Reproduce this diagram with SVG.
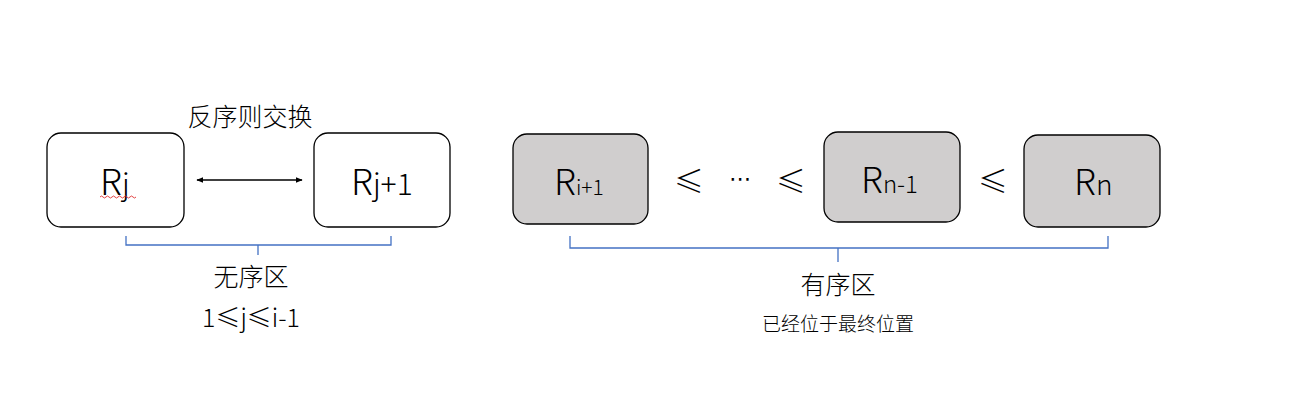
<svg xmlns="http://www.w3.org/2000/svg" width="1300" height="406" viewBox="0 0 1300 406">
<defs>
<style>
.t{font-family:"Noto Sans CJK SC","Noto Sans",sans-serif;fill:#000;}
.r{font-weight:300;}
.dot{font-family:"DejaVu Sans",sans-serif;fill:#000;}
.box{fill:#fff;stroke:#000;stroke-width:1.3;}
.gbox{fill:#D0CECE;stroke:#000;stroke-width:1.3;}
.br{fill:none;stroke:#4472C4;stroke-width:1.3;}
</style>
<marker id="ah" viewBox="0 0 10 10" refX="9" refY="5" markerWidth="7" markerHeight="7" orient="auto-start-reverse" markerUnits="userSpaceOnUse">
<path d="M0,1 L10,5 L0,9 z" fill="#000"/>
</marker>
</defs>
<rect width="1300" height="406" fill="#fff"/>
<text class="t r" x="250" y="126" font-size="25" text-anchor="middle">反序则交换</text>
<g id="node-rj">
<rect class="box" x="47" y="133" width="137" height="94" rx="14"/>
<text class="t r" x="100" y="195" font-size="36">R<tspan font-size="30">j</tspan></text>
<path d="M100,197 q1.5,-2 3,0 t3,0 t3,0 t3,0 t3,0 t3,0 t3,0 t3,0 t3,0 t3,0 t3,0 t3,0" fill="none" stroke="#e03030" stroke-width="0.9"/>
</g>
<g id="node-rj1">
<rect class="box" x="314" y="133" width="136" height="94" rx="14"/>
<text class="t r" x="351" y="195" font-size="36">R<tspan font-size="30">j+1</tspan></text>
</g>
<g id="node-ri1">
<rect class="gbox" x="513" y="134" width="135" height="90" rx="14"/>
<text class="t r" x="554" y="195" font-size="36">R<tspan font-size="21">i+1</tspan></text>
</g>
<g id="node-rn1">
<rect class="gbox" x="824" y="132" width="136" height="90" rx="14"/>
<text class="t r" x="861" y="193" font-size="36">R<tspan font-size="24">n-1</tspan></text>
</g>
<g id="node-rn">
<rect class="gbox" x="1024" y="135" width="136" height="92" rx="14"/>
<text class="t r" x="1074" y="195" font-size="36">R<tspan font-size="28">n</tspan></text>
</g>
<g id="relations">
<text class="t r" x="689" y="192" font-size="30" text-anchor="middle">≤</text>
<text class="dot" x="740" y="186" font-size="22" text-anchor="middle">⋯</text>
<text class="t r" x="791" y="192" font-size="30" text-anchor="middle">≤</text>
<text class="t r" x="993" y="192" font-size="30" text-anchor="middle">≤</text>
</g>
<g id="connectors">
<line x1="197" y1="180" x2="302" y2="180" stroke="#000" stroke-width="1.3" marker-start="url(#ah)" marker-end="url(#ah)"/>
<path class="br" d="M126,236 V245 H391 V236 M258,245 V255"/>
<path class="br" d="M570,236 V248 H1108 V236 M838,248 V262"/>
</g>
<g id="labels">
<text class="t r" x="251" y="286" font-size="25" text-anchor="middle">无序区</text>
<text class="t r" x="251" y="327" font-size="25" text-anchor="middle">1≤j≤i-1</text>
<text class="t r" x="838" y="294" font-size="25" text-anchor="middle">有序区</text>
<text class="t r" x="838" y="331" font-size="19" text-anchor="middle">已经位于最终位置</text>
</g>
</svg>
